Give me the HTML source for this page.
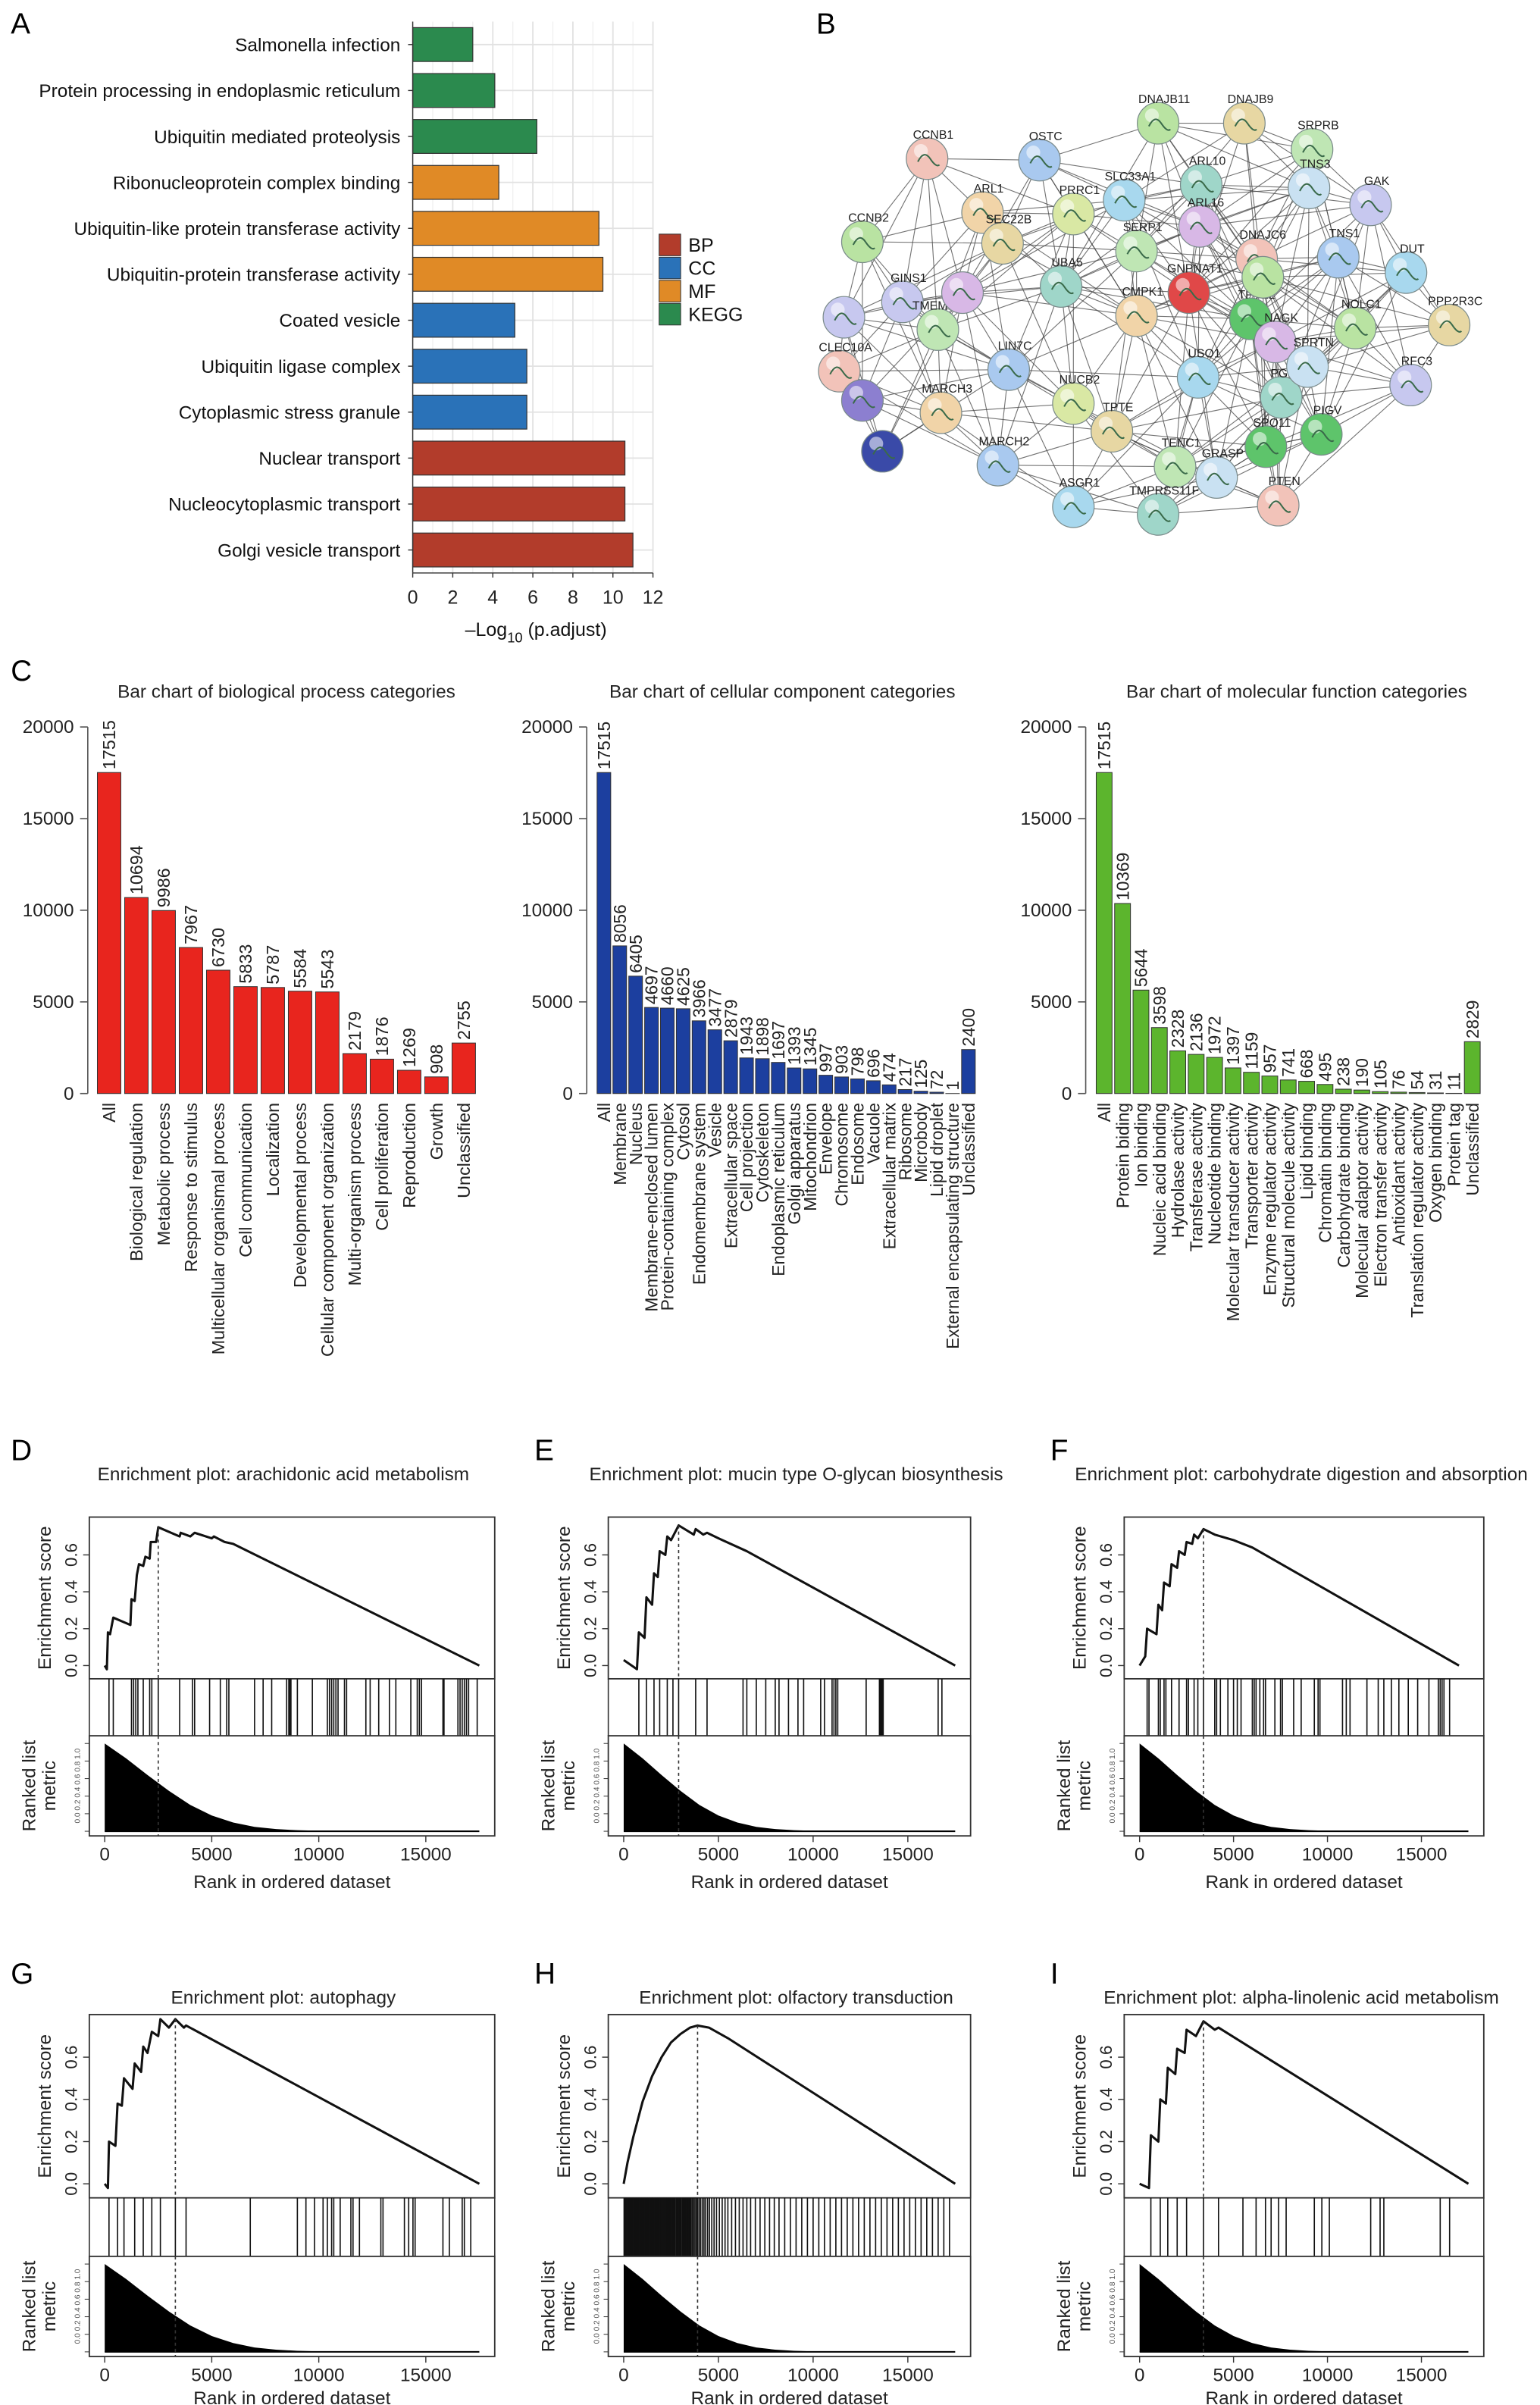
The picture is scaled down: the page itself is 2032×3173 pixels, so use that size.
<!DOCTYPE html>
<html><head><meta charset="utf-8"><style>
html,body{margin:0;padding:0;background:#fff;}
svg{display:block;font-family:"Liberation Sans",sans-serif;}
</style></head><body>
<svg id="fig" xmlns="http://www.w3.org/2000/svg" width="2032" height="3173" viewBox="0 0 1000 1561.5">
<rect x="0" y="0" width="1000" height="1561.5" fill="#fff"/>
<g font-size="19" font-weight="normal" fill="#000">
<text x="7" y="22">A</text>
<text x="530" y="22">B</text>
<text x="7" y="442">C</text>
<text x="7" y="948">D</text>
<text x="347" y="948">E</text>
<text x="682" y="948">F</text>
<text x="7" y="1288">G</text>
<text x="347" y="1288">H</text>
<text x="682" y="1288">I</text>
</g>
</svg>
<script>
// ---------- Panel A data ----------
const aLabels = ["Salmonella infection","Protein processing in endoplasmic reticulum","Ubiquitin mediated proteolysis","Ribonucleoprotein complex binding","Ubiquitin-like protein transferase activity","Ubiquitin-protein transferase activity","Coated vesicle","Ubiquitin ligase complex","Cytoplasmic stress granule","Nuclear transport","Nucleocytoplasmic transport","Golgi vesicle transport"];
const aValues = [3.0,4.1,6.2,4.3,9.3,9.5,5.1,5.7,5.7,10.6,10.6,11.0];
const aGroups = ["KEGG","KEGG","KEGG","MF","MF","MF","CC","CC","CC","BP","BP","BP"];
const aTicks = [0,2,4,6,8,10,12];
const legendKeys = ["BP","CC","MF","KEGG"];

// ---------- Panel C data ----------
const bpCats = ["All","Biological regulation","Metabolic process","Response to stimulus","Multicellular organismal process","Cell communication","Localization","Developmental process","Cellular component organization","Multi-organism process","Cell proliferation","Reproduction","Growth","Unclassified"];
const bpVals = [17515,10694,9986,7967,6730,5833,5787,5584,5543,2179,1876,1269,908,2755];
const ccCats = ["All","Membrane","Nucleus","Membrane-enclosed lumen","Protein-containing complex","Cytosol","Endomembrane system","Vesicle","Extracellular space","Cell projection","Cytoskeleton","Endoplasmic reticulum","Golgi apparatus","Mitochondrion","Envelope","Chromosome","Endosome","Vacuole","Extracellular matrix","Ribosome","Microbody","Lipid droplet","External encapsulating structure","Unclassified"];
const ccVals = [17515,8056,6405,4697,4660,4625,3966,3477,2879,1943,1898,1697,1393,1345,997,903,798,696,474,217,125,72,1,2400];
const mfCats = ["All","Protein biding","Ion binding","Nucleic acid binding","Hydrolase activity","Transferase activity","Nucleotide binding","Molecular transducer activity","Transporter activity","Enzyme regulator activity","Structural molecule activity","Lipid binding","Chromatin binding","Carbohydrate binding","Molecular adaptor activity","Electron transfer activity","Antioxidant activity","Translation regulator activity","Oxygen binding","Protein tag","Unclassified"];
const mfVals = [17515,10369,5644,3598,2328,2136,1972,1397,1159,957,741,668,495,238,190,105,76,54,31,11,2829];
const cTicks = [0,5000,10000,15000,20000];

// ---------- GSEA data ----------
const metricRank = [0,1000,2000,3000,4000,5000,6000,7000,8000,9000,10000,12000,14000,17500];
const metricVal = [1.0,0.83,0.64,0.46,0.3,0.18,0.1,0.05,0.025,0.012,0.006,0.002,0.001,0.0];
const rankTicks = [0,5000,10000,15000];
const esTicks = [0.0,0.2,0.4,0.6];

const dEsRank = [0,100,150,250,400,1200,1250,1400,1500,1600,1800,1900,2100,2150,2400,2500,3500,3550,4000,4200,5000,5100,5600,6000,17500];
const dEsVal = [0,-0.02,0.18,0.17,0.26,0.22,0.36,0.35,0.49,0.55,0.54,0.59,0.58,0.67,0.67,0.75,0.70,0.72,0.70,0.72,0.69,0.70,0.67,0.66,0.0];
const dHits = [200,400,1250,1350,1450,1550,1800,2100,2200,2500,3500,4100,4200,4900,5400,5700,5800,7000,7400,7800,8500,8600,8650,8700,9000,9700,10400,10500,10600,10700,10800,10900,11200,11300,12200,12400,12800,13300,13600,14300,14600,14700,14800,15800,15850,16500,16600,16700,16800,16900,17000,17400];
const dPeak = 2500;

const eEsRank = [0,700,800,1100,1200,1500,1600,1800,1900,2200,2300,2500,2900,3700,3800,4200,4400,5000,6500,17500];
const eEsVal = [0.03,-0.02,0.18,0.15,0.37,0.33,0.5,0.48,0.62,0.60,0.70,0.68,0.76,0.71,0.74,0.71,0.72,0.69,0.62,0.0];
const eHits = [800,1200,1600,1900,2300,2600,2900,3800,4400,6300,6500,7000,7500,8000,8200,8700,9200,9500,10400,10600,11000,11100,11200,11300,12800,13500,13550,13600,13650,13700,16600,16800];
const ePeak = 2900;

const fEsRank = [0,300,400,900,1000,1200,1300,1600,1700,2000,2100,2400,2500,2800,2900,3100,3400,4000,5000,6000,17000];
const fEsVal = [0,0.05,0.2,0.17,0.33,0.3,0.45,0.43,0.55,0.53,0.62,0.6,0.67,0.66,0.71,0.69,0.74,0.71,0.68,0.64,0.0];
const fHits = [400,500,1000,1100,1300,1400,1700,2100,2500,2600,2900,3100,3400,4000,4100,4300,4700,5000,5200,5400,6000,6100,6200,6400,6600,6700,7200,7500,7600,8200,8600,9300,9500,9600,10800,11000,11200,12100,12700,13000,13400,13800,14300,14800,15400,15900,16000,16100,16200,16500];
const fPeak = 3400;

const gEsRank = [0,150,200,500,600,800,900,1300,1400,1700,1800,2000,2200,2500,2600,3000,3300,3700,3800,17500];
const gEsVal = [0,-0.02,0.2,0.18,0.38,0.37,0.5,0.45,0.57,0.53,0.65,0.62,0.72,0.70,0.78,0.74,0.78,0.74,0.75,0.0];
const gHits = [200,600,900,1400,1800,2200,2600,3300,3800,6800,9000,9400,9800,10200,10400,10600,10700,11000,11500,11600,11900,12900,13000,14000,14200,14400,14500,15800,16100,16700,16800,17100];
const gPeak = 3300;

const hEsRank = [0,200,500,1000,1500,2000,2500,3000,3500,3900,4500,5500,17500];
const hEsVal = [0,0.1,0.22,0.39,0.51,0.6,0.67,0.71,0.74,0.75,0.74,0.69,0.0];
const hHits = [20,60,110,150,200,240,290,330,380,420,470,510,560,600,650,700,740,790,830,880,930,970,1020,1070,1110,1160,1200,1250,1300,1350,1390,1440,1490,1530,1580,1630,1680,1720,1770,1820,1870,1910,1960,2010,2060,2110,2150,2200,2250,2300,2350,2400,2450,2500,2550,2600,2650,2700,2760,2810,2860,2910,2970,3020,3080,3130,3190,3250,3310,3370,3430,3490,3550,3620,3690,3760,3830,3900,3980,4060,4150,4240,4330,4430,4530,4650,4770,4900,5050,5200,5350,5500,5700,5900,6100,6300,6500,6700,6950,7200,7450,7700,7950,8200,8500,8800,9100,9400,9700,10000,10300,10600,10900,11200,11500,11800,12100,12400,12700,13000,13300,13600,13900,14200,14500,14800,15100,15400,15700,16000,16300,16600,16900,17200];
const hPeak = 3900;

const iEsRank = [0,500,600,1000,1100,1400,1500,1900,2000,2400,2500,3000,3400,4000,4200,17500];
const iEsVal = [0,-0.02,0.23,0.2,0.4,0.38,0.55,0.52,0.64,0.62,0.73,0.70,0.77,0.73,0.74,0.0];
const iHits = [600,1100,1500,2000,2500,3400,4200,5500,6200,6700,7000,7400,7800,9300,9700,10100,12300,12800,13000,16000,16500];
const iPeak = 3400;

// ---------- Panel B network nodes ----------
const netNames = ["DNAJB11","DNAJB9","SRPRB","CCNB1","OSTC","SLC33A1","ARL10","TNS3","GAK","ARL1","PRRC1","ARL16","CCNB2","SEC22B","SERP1","DNAJC6","TNS1","DUT","UBA5","GNPNAT1","GINS1","CMPK1","TPTE2","NAGK","NOLC1","PPP2R3C","TMEM167A","CLEC10A","LIN7C","USO1","PGM3","SPRTN","RFC3","MARCH3","NUCB2","PIGV","SPO11","TPTE","TENC1","PTEN","MARCH2","ASGR1","TMPRSS11F","GRASP","","","","",""];
const netX = [752,808,852,602,675,730,780,850,890,638,697,779,560,651,738,816,869,913,689,772,586,738,812,828,880,941,609,545,655,778,832,849,916,611,697,858,822,722,763,830,648,697,752,790,548,573,560,625,820];
const netY = [80,80,97,103,104,130,120,122,133,138,139,147,157,158,163,168,167,177,186,190,196,205,207,222,213,211,214,241,240,245,258,238,250,268,262,282,290,280,303,328,302,329,334,310,206,293,260,190,180];

const NS = "http://www.w3.org/2000/svg";
const svg = document.getElementById('fig');
function mk(parent, tag, attrs, nm, txt) {
  const el = document.createElementNS(NS, tag);
  for (const k in attrs) el.setAttribute(k, attrs[k]);
  
  
  if (txt !== undefined) el.textContent = txt;
  parent.appendChild(el);
  return el;
}

// ================= Panel A =================
(function(){
  const g = mk(svg,'g',{},'panel-a-bar-chart');
  const x0 = 268, x1 = 424, yTop = 14, yBot = 372, maxV = 12;
  const xs = v => x0 + (v/maxV)*(x1-x0);
  const rowH = (yBot-yTop)/aLabels.length;
  const colors = {BP:"#b23c2b",CC:"#2a72b8",MF:"#e08a26",KEGG:"#2b8a4e"};
  for (let v=0; v<=12; v++) {
    mk(g,'line',{x1:xs(v),x2:xs(v),y1:yTop,y2:yBot,stroke: v%2===0?"#e2e2e2":"#efefef","stroke-width":v%2===0?0.9:0.6},'grid-line-x');
  }
  aLabels.forEach((lab,i)=>{
    const cy = yTop + rowH*(i+0.5);
    mk(g,'line',{x1:x0,x2:x1,y1:cy,y2:cy,stroke:"#e2e2e2","stroke-width":0.9},'grid-line-y');
  });
  aLabels.forEach((lab,i)=>{
    const cy = yTop + rowH*(i+0.5);
    mk(g,'rect',{x:x0,y:cy-11,width:xs(aValues[i])-x0,height:22,fill:colors[aGroups[i]],stroke:"#333","stroke-width":0.6},'bar-'+aGroups[i].toLowerCase());
    mk(g,'text',{x:260,y:cy+4.3,"text-anchor":"end","font-size":12,fill:"#111"},'category-label',lab);
    mk(g,'line',{x1:x0-3,x2:x0,y1:cy,y2:cy,stroke:"#333","stroke-width":0.7},'y-tick');
  });
  mk(g,'line',{x1:x0,x2:x0,y1:yTop,y2:yBot,stroke:"#333","stroke-width":0.7},'y-axis-line');
  mk(g,'line',{x1:x0,x2:x1,y1:yBot,y2:yBot,stroke:"#333","stroke-width":0.7},'x-axis-line');
  aTicks.forEach(t=>{
    mk(g,'line',{x1:xs(t),x2:xs(t),y1:yBot,y2:yBot+3,stroke:"#333","stroke-width":0.7},'x-tick');
    mk(g,'text',{x:xs(t),y:yBot+20,"text-anchor":"middle","font-size":12.3,fill:"#222"},'x-tick-label',String(t));
  });
  const tt = mk(g,'text',{x:348,y:413,"text-anchor":"middle","font-size":12.3,fill:"#111"},'x-axis-title');
  mk(tt,'tspan',{},'x-title-part','\u2013Log');
  mk(tt,'tspan',{"font-size":9,dy:4},'x-title-subscript','10');
  mk(tt,'tspan',{dy:-4},'x-title-part',' (p.adjust)');
  const lg = mk(g,'g',{},'legend');
  legendKeys.forEach((k,i)=>{
    const ly = 152 + i*15;
    mk(lg,'rect',{x:428,y:ly,width:14,height:14,fill:colors[k],stroke:"#333","stroke-width":0.5},'legend-swatch-'+k.toLowerCase());
    mk(lg,'text',{x:447,y:ly+11.5,"font-size":12.3,fill:"#111"},'legend-entry-'+k.toLowerCase(),k);
  });
})();

// ================= Panel B network =================
(function(){
  const g = mk(svg,'g',{},'panel-b-network');
  const edges = mk(g,'g',{stroke:"#444","stroke-width":0.55,"stroke-opacity":0.75},'network-edges');
  const n = netX.length;
  for (let i=0;i<n;i++) for (let j=i+1;j<n;j++) {
    const d = Math.hypot(netX[i]-netX[j], netY[i]-netY[j]);
    if (d < 125 && ((i*7+j*3)%5 !== 0)) mk(edges,'line',{x1:netX[i],y1:netY[i],x2:netX[j],y2:netY[j]},'network-edge');
  }
  const palette = ["#b9e3a2","#a8d8ee","#d9e8a4","#f2c3b9","#c7c8ef","#e7d7a3","#9fd6c9","#d8b8e6","#a9c9ef","#f1d4a8","#bfe6b4","#c9e1f2"];
  for (let i=0;i<n;i++) {
    let col = palette[(i*5)%palette.length];
    if (netNames[i]==="GNPNAT1") col="#e04848";
    if (i===45) col="#3a4aa8";
    if (i===46) col="#8c7fd0";
    if (netNames[i]==="TPTE2" || netNames[i]==="PIGV" || netNames[i]==="SPO11") col="#5ec46b";
    const nd = mk(g,'g',{},'network-node');
    
    mk(nd,'circle',{cx:netX[i],cy:netY[i],r:13.5,fill:col,stroke:"#7a8a8a","stroke-width":0.6},'node-circle');
    mk(nd,'circle',{cx:netX[i]-4,cy:netY[i]-5,r:4.5,fill:"#fff","fill-opacity":0.55},'node-highlight');
    mk(nd,'path',{d:`M${netX[i]-6} ${netY[i]+2} q4 -8 8 -2 t6 4`,stroke:"#3a6a4a","stroke-width":1,fill:"none"},'node-structure');
    if (netNames[i]) mk(nd,'text',{x:netX[i]+4,y:netY[i]-13,"font-size":7.8,fill:"#222","text-anchor":"middle"},'node-label',netNames[i]);
  }
})();

// ================= Panel C =================
function barChart(cats, vals, cfg) {
  const g = mk(svg,'g',{},cfg.name);
  const y0 = 710, yMaxPx = 472;
  const ys = v => y0 - (v/20000)*(y0-yMaxPx);
  const slot = (cfg.x1 - cfg.x0)/cats.length;
  mk(g,'text',{x:cfg.titleX,y:453,"text-anchor":"middle","font-size":12,fill:"#222"},'chart-title',cfg.title);
  mk(g,'line',{x1:cfg.axisX,x2:cfg.axisX,y1:ys(0),y2:ys(20000),stroke:"#555","stroke-width":0.8},'y-axis-line');
  cTicks.forEach(t=>{
    mk(g,'line',{x1:cfg.axisX-5,x2:cfg.axisX,y1:ys(t),y2:ys(t),stroke:"#555","stroke-width":0.8},'y-tick');
    mk(g,'text',{x:cfg.axisX-9,y:ys(t)+4,"text-anchor":"end","font-size":12,fill:"#222"},'y-tick-label',String(t));
  });
  cats.forEach((c,i)=>{
    const cx = cfg.x0 + slot*(i+0.5);
    const bw = slot*0.86;
    mk(g,'rect',{x:cx-bw/2,y:ys(vals[i]),width:bw,height:ys(0)-ys(vals[i]),fill:cfg.color,stroke:"#333","stroke-width":0.5},'bar-'+c.toLowerCase().replace(/[^a-z0-9]+/g,'-'));
    mk(g,'text',{x:cx+4,y:ys(vals[i])-2,"font-size":cfg.fs,fill:"#222",transform:`rotate(-90 ${cx+4} ${ys(vals[i])-2})`},'value-label',String(vals[i]));
    mk(g,'text',{x:cx+4,y:716,"font-size":cfg.fs,fill:"#222","text-anchor":"end",transform:`rotate(-90 ${cx+4} 716)`},'category-label',c);
  });
}
barChart(bpCats,bpVals,{name:'bp-bar-chart',x0:62,x1:310,axisX:57,titleX:186,title:"Bar chart of biological process categories",color:"#e8251e",fs:11.5});
barChart(ccCats,ccVals,{name:'cc-bar-chart',x0:387,x1:634,axisX:381,titleX:508,title:"Bar chart of cellular component categories",color:"#1c3f9f",fs:11.2});
barChart(mfCats,mfVals,{name:'mf-bar-chart',x0:711,x1:962,axisX:705,titleX:842,title:"Bar chart of molecular function categories",color:"#5cb52d",fs:11.2});

// ================= GSEA panels =================
function gsea(cfg, esRank, esVal, hits, peak) {
  const g = mk(svg,'g',{},cfg.name);
  const xs = r => cfg.x0 + r*cfg.k;
  const bl = cfg.x0 - 10, br = cfg.x0 + 17500*cfg.k + 10;
  const r = cfg.row;
  const esY = v => r.esBot - 5 - (v + 0.03)/(0.81)*(r.esBot - r.esTop - 8);
  mk(g,'text',{x:cfg.titleX,y:r.title,"text-anchor":"middle","font-size":12,fill:"#222"},'plot-title',cfg.title);
  mk(g,'rect',{x:bl,y:r.esTop,width:br-bl,height:r.esBot-r.esTop,fill:"none",stroke:"#333","stroke-width":0.9},'es-box');
  let d = '';
  esRank.forEach((rk,i)=>{ d += (i?'L':'M') + xs(rk).toFixed(2) + ' ' + esY(esVal[i]).toFixed(2) + ' '; });
  mk(g,'path',{d:d,fill:"none",stroke:"#111","stroke-width":1.5,"stroke-linejoin":"round"},'es-curve');
  esTicks.forEach(t=>{
    mk(g,'line',{x1:bl-4,x2:bl,y1:esY(t),y2:esY(t),stroke:"#333","stroke-width":0.7},'es-tick');
    mk(g,'text',{x:bl-8,y:esY(t),"font-size":11,fill:"#222","text-anchor":"middle",transform:`rotate(-90 ${bl-8} ${esY(t)})`},'es-tick-label',t.toFixed(1));
  });
  const ylab = (r.esTop + r.esBot)/2;
  mk(g,'text',{x:bl-25,y:ylab,"font-size":12,fill:"#222","text-anchor":"middle",transform:`rotate(-90 ${bl-25} ${ylab})`},'es-axis-title','Enrichment score');
  hits.forEach(h=>{
    mk(g,'line',{x1:xs(h),x2:xs(h),y1:r.esBot,y2:r.strip,stroke:"#111","stroke-width":0.8},'hit-line');
  });
  mk(g,'line',{x1:bl,x2:bl,y1:r.esBot,y2:r.strip,stroke:"#333","stroke-width":0.8},'strip-left');
  mk(g,'line',{x1:br,x2:br,y1:r.esBot,y2:r.strip,stroke:"#333","stroke-width":0.8},'strip-right');
  const mY = v => r.rkBot - 3 - v*(r.rkBot - r.strip - 8);
  let md = `M${xs(0)} ${mY(0)} `;
  metricRank.forEach((rk,i)=>{ md += `L${xs(rk).toFixed(2)} ${mY(metricVal[i]).toFixed(2)} `; });
  md += `L${xs(17500)} ${mY(0)} Z`;
  mk(g,'path',{d:md,fill:"#000"},'ranked-metric-area');
  mk(g,'line',{x1:xs(0),x2:xs(17500),y1:mY(0),y2:mY(0),stroke:"#000","stroke-width":1},'metric-baseline');
  mk(g,'rect',{x:bl,y:r.strip,width:br-bl,height:r.rkBot-r.strip,fill:"none",stroke:"#333","stroke-width":0.9},'ranked-box');
  [0,0.2,0.4,0.6,0.8,1.0].forEach(t=>{
    mk(g,'line',{x1:bl-3,x2:bl,y1:mY(t),y2:mY(t),stroke:"#333","stroke-width":0.5},'metric-tick');
  });
  const my = (r.strip + r.rkBot)/2;
  mk(g,'text',{x:bl-6,y:my,"font-size":5,fill:"#555","text-anchor":"middle",transform:`rotate(-90 ${bl-6} ${my})`},'metric-tick-labels','0.0 0.2 0.4 0.6 0.8 1.0');
  mk(g,'text',{x:bl-35,y:my,"font-size":12,fill:"#222","text-anchor":"middle",transform:`rotate(-90 ${bl-35} ${my})`},'metric-axis-title','Ranked list');
  mk(g,'text',{x:bl-22,y:my,"font-size":12,fill:"#222","text-anchor":"middle",transform:`rotate(-90 ${bl-22} ${my})`},'metric-axis-title-2','metric');
  mk(g,'line',{x1:xs(peak),x2:xs(peak),y1:esY(Math.max(...esVal)),y2:r.esBot,stroke:"#333","stroke-width":0.8,"stroke-dasharray":"2,2"},'peak-line');
  mk(g,'line',{x1:xs(peak),x2:xs(peak),y1:r.strip,y2:r.rkBot,stroke:"#333","stroke-width":0.8,"stroke-dasharray":"2,2"},'peak-line-lower');
  rankTicks.forEach(t=>{
    mk(g,'line',{x1:xs(t),x2:xs(t),y1:r.rkBot,y2:r.rkBot+4,stroke:"#333","stroke-width":0.7},'x-tick');
    mk(g,'text',{x:xs(t),y:r.tick,"text-anchor":"middle","font-size":12,fill:"#222"},'x-tick-label',String(t));
  });
  mk(g,'text',{x:(bl+br)/2,y:r.xt,"text-anchor":"middle","font-size":12,fill:"#222"},'x-axis-title','Rank in ordered dataset');
}
const row1 = {title:961,esTop:985,esBot:1090,strip:1127,rkBot:1192,tick:1208,xt:1226};
const row2 = {title:1301,esTop:1308,esBot:1427,strip:1465,rkBot:1530,tick:1546,xt:1561};
gsea({name:'gsea-arachidonic',x0:68,k:0.0139,row:row1,titleX:184,title:'Enrichment plot: arachidonic acid metabolism'},dEsRank,dEsVal,dHits,dPeak);
gsea({name:'gsea-mucin',x0:405,k:0.0123,row:row1,titleX:517,title:'Enrichment plot: mucin type O-glycan biosynthesis'},eEsRank,eEsVal,eHits,ePeak);
gsea({name:'gsea-carbohydrate',x0:740,k:0.0122,row:row1,titleX:845,title:'Enrichment plot: carbohydrate digestion and absorption'},fEsRank,fEsVal,fHits,fPeak);
gsea({name:'gsea-autophagy',x0:68,k:0.0139,row:row2,titleX:184,title:'Enrichment plot: autophagy'},gEsRank,gEsVal,gHits,gPeak);
gsea({name:'gsea-olfactory',x0:405,k:0.0123,row:row2,titleX:517,title:'Enrichment plot: olfactory transduction'},hEsRank,hEsVal,hHits,hPeak);
gsea({name:'gsea-alpha-linolenic',x0:740,k:0.0122,row:row2,titleX:845,title:'Enrichment plot: alpha-linolenic acid metabolism'},iEsRank,iEsVal,iHits,iPeak);
</script>
</body></html>
